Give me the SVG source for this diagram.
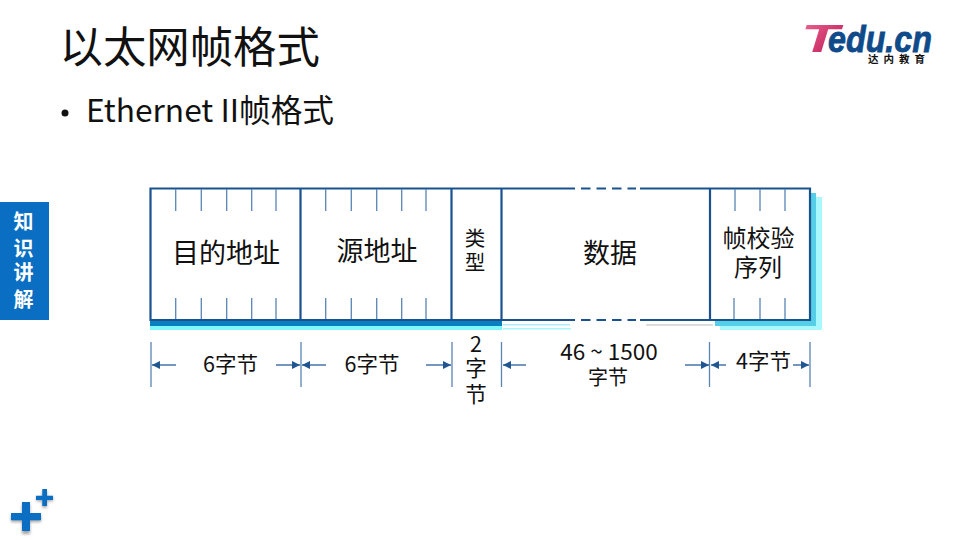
<svg xmlns="http://www.w3.org/2000/svg" width="960" height="540" viewBox="0 0 960 540">
<style>
text{font-family:"Noto Sans CJK SC","Noto Sans",sans-serif;fill:#111}
.m{text-anchor:middle}
.f{fill:none;stroke:#1a5290;stroke-width:2.2}
.t{fill:none;stroke:#5a85b5;stroke-width:1.3}
.d{fill:none;stroke:#5a85b5;stroke-width:1.3}
.a{fill:none;stroke:#2a5f9a;stroke-width:1.3;marker-end:url(#ah)}
.l{font-size:27px}
.s{font-size:21.500px}
</style>
<defs>
<marker id="ah" markerWidth="9" markerHeight="8" refX="8" refY="4" orient="auto" markerUnits="userSpaceOnUse"><path d="M0 0L8 4L0 8Z" fill="#1f5590"/></marker>
<linearGradient id="tg" x1="0" x2="1" y1="0" y2="1"><stop offset="0" stop-color="#f06a95"/><stop offset="1" stop-color="#b5104f"/></linearGradient>
<filter id="sh" x="-30%" y="-30%" width="170%" height="170%"><feGaussianBlur stdDeviation="1.6"/></filter>
</defs>
<rect width="960" height="540" fill="#fff"/>
<g id="title"><text x="59.500" y="63" font-size="43.400">以太网帧格式</text></g>
<g id="bullet"><circle cx="65" cy="113" r="3.500" fill="#111"/><text x="86" y="122" font-size="31.700">Ethernet II帧格式</text></g>
<g id="logo">
<text x="828" y="52" font-size="36" font-weight="700" font-style="italic" textLength="104" lengthAdjust="spacingAndGlyphs" stroke="#0f4a8a" stroke-width=".8" style="font-family:'Liberation Sans',sans-serif;fill:#0f4a8a">edu.cn</text>
<text x="801" y="52" font-size="39" font-weight="700" font-style="italic" textLength="38" lengthAdjust="spacingAndGlyphs" style="font-family:'Liberation Sans',sans-serif;fill:url(#tg)">T</text>
<text x="868" y="63" font-size="10.500" font-weight="700" letter-spacing="5" style="fill:#111">达内教育</text>
</g>
<g id="sidebar">
<rect x="0" y="202" width="49" height="118" fill="#0a6fc2"/>
<g font-size="20" font-weight="700" text-anchor="middle"><text x="23.500" y="229" style="fill:#fff">知</text><text x="23.500" y="256" style="fill:#fff">识</text><text x="23.500" y="280" style="fill:#fff">讲</text><text x="23.500" y="307" style="fill:#fff">解</text></g>
</g>
<g id="plus">
<g fill="#555" filter="url(#sh)" opacity=".55"><path d="M22 504h8v11h11v7h-11v12h-8v-12h-11v-7h11z"/><path d="M42.300 491h4.700v6h6v4.300h-6v6.500h-4.700v-6.500h-6v-4.300h6z"/></g>
<g fill="#0a6fc2"><path d="M22 502h8v11h11v7.300h-11v10.700h-8v-10.700h-11v-7.300h11z"/><path d="M42.300 489h4.700v6.700h6v4.300h-6v6h-4.700v-6h-6.300v-4.300h6.300z"/></g>
</g>
<g id="shadows">
<rect x="815" y="197" width="7" height="133" fill="#aaf8ff"/>
<rect x="720" y="325" width="102" height="5" fill="#aaf8ff"/>
<rect x="810" y="193" width="6" height="132" fill="#55cfe8"/>
<rect x="715" y="321" width="101" height="5" fill="#55cfe8"/>
<rect x="150" y="326" width="352" height="4" fill="#7ff8ff"/>
<rect x="150" y="320.500" width="352" height="5.500" fill="#0a7fbf"/>
<rect x="503" y="324" width="67" height="1.500" fill="#aeeef8"/>
<rect x="503" y="328" width="68" height="1.500" fill="#aaf8ff"/>
<rect x="646" y="324" width="67" height="2" fill="#ddd"/>
</g>
<g id="frame">
<path class="f" d="M575 188.500H150.500V320H575M640 188.500H810V320H640"/>
<path class="f" d="M300.500 188V320M451.500 188V320M501.500 188V320M710 188V320"/>
<path class="f" stroke-dasharray="9.500 6" d="M581 188.500H636M581 320H636"/>
<path class="t" d="M175.700 189V211M201.300 189V211M226.700 189V211M251.700 189V211M276 189V211M325.700 189V211M351.300 189V211M376.700 189V211M401.700 189V211M426 189V211M735 189V211M760 189V211M785 189V211"/>
<path class="t" d="M175.700 298V319M201.300 298V319M226.700 298V319M251.700 298V319M276 298V319M325.700 298V319M351.300 298V319M376.700 298V319M401.700 298V319M426 298V319M734 298V319M760 298V319M785 298V319"/>
</g>
<g id="field-dst"><text class="m l" x="226" y="263">目的地址</text></g>
<g id="field-src"><text class="m l" x="377" y="261">源地址</text></g>
<g id="field-type"><text class="m" x="475" y="246" font-size="20.500">类</text><text class="m" x="475" y="270" font-size="20.500">型</text></g>
<g id="field-data"><text class="m l" x="610" y="263">数据</text></g>
<g id="field-fcs"><text class="m" x="758.500" y="247" font-size="24">帧校验</text><text class="m" x="758" y="276" font-size="24">序列</text></g>
<g id="connectors">
<path class="d" d="M151 342V387M301 342V387M452 342V387M501.500 342V387M709.500 342V387M810 342V387"/>
<path class="a" d="M176 365H152"/><path class="a" d="M276 365H300"/>
<path class="a" d="M326 365H302"/><path class="a" d="M426 365H451"/>
<path class="a" d="M526 365H503"/><path class="a" d="M685 365H709"/>
<path class="a" d="M726 365H711"/><path class="a" d="M793 365H809"/>
</g>
<g id="dim-labels">
<text class="m s" x="230.500" y="372">6字节</text>
<text class="m s" x="372" y="372">6字节</text>
<text class="m s" x="476" y="352">2</text><text class="m s" x="476" y="376">字</text><text class="m s" x="476" y="402">节</text>
<text class="m" x="609" y="360" font-size="22.500">46 ~ 1500</text><text class="m" x="608" y="385" font-size="20">字节</text>
<text class="m s" x="763.500" y="369">4字节</text>
</g>
</svg>
